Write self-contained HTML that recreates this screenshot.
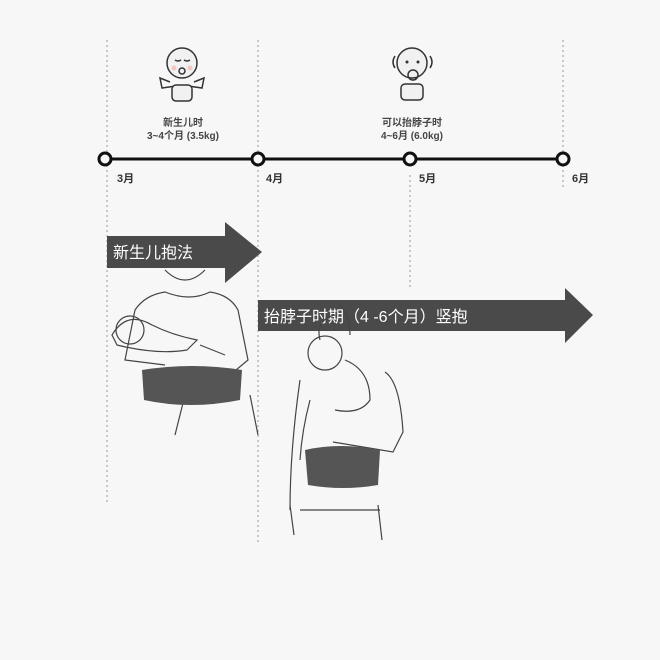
<!DOCTYPE html>
<html><head><meta charset="utf-8"><style>
body{margin:0;background:#f7f7f7;}
svg{display:block}
text{font-family:"Liberation Sans","Noto Sans CJK SC",sans-serif;}
</style></head><body>
<svg width="660" height="660" viewBox="0 0 660 660">
<rect width="660" height="660" fill="#f7f7f7"/>
<g stroke="#aaa" stroke-width="1.2" stroke-dasharray="2,3">
<line x1="107" y1="40" x2="107" y2="505"/>
<line x1="258" y1="40" x2="258" y2="545"/>
<line x1="410" y1="175" x2="410" y2="290"/>
<line x1="563" y1="40" x2="563" y2="190"/>
</g>
<g fill="none" stroke="#333" stroke-width="1.5">
<circle cx="182" cy="63" r="15" fill="#f1f1f1"/>
<path d="M170 82 L160 78 L162 88 L176 86 M194 82 L204 78 L202 88 L188 86"/>
<rect x="172" y="85" width="20" height="16" rx="4" fill="#f1f1f1"/>
<path d="M175 60 q3 2 6 0 M184 60 q3 2 6 0"/>
<circle cx="182" cy="71" r="3"/>
<circle cx="412" cy="63" r="15" fill="#f1f1f1"/>
<rect x="401" y="84" width="22" height="16" rx="4" fill="#f1f1f1"/>
<circle cx="413" cy="75" r="5"/>
<path d="M395 56 q-4 6 0 12 M430 56 q4 6 0 12"/>
</g>
<circle cx="174" cy="68" r="2.5" fill="#f0c8c0"/><circle cx="190" cy="68" r="2.5" fill="#f0c8c0"/>
<circle cx="407" cy="62" r="1.5" fill="#333"/><circle cx="418" cy="62" r="1.5" fill="#333"/>
<g font-size="10" fill="#444" text-anchor="middle" font-weight="bold">
<text x="183" y="126">新生儿时</text><text x="183" y="139">3~4个月 (3.5kg)</text>
<text x="412" y="126">可以抬脖子时</text><text x="412" y="139">4~6月 (6.0kg)</text>
</g>
<line x1="105" y1="159" x2="563" y2="159" stroke="#111" stroke-width="3"/>
<g fill="#f7f7f7" stroke="#111" stroke-width="3">
<circle cx="105" cy="159" r="6"/><circle cx="258" cy="159" r="6"/><circle cx="410" cy="159" r="6"/><circle cx="563" cy="159" r="6"/>
</g>
<g font-size="11" fill="#333" font-weight="bold">
<text x="117" y="182">3月</text><text x="266" y="182">4月</text><text x="419" y="182">5月</text><text x="572" y="182">6月</text>
</g>
<path d="M107 236 H225 V222 L262 252 L225 283 V268 H107 Z" fill="#4a4a4a"/>
<text x="113" y="258" font-size="16" fill="#fff">新生儿抱法</text>
<path d="M258 300 H565 V288 L593 315 L565 343 V331 H258 Z" fill="#4a4a4a"/>
<text x="264" y="322" font-size="16" fill="#fff">抬脖子时期（4 -6个月）竖抱</text>
<g fill="none" stroke="#444" stroke-width="1.2">
<path d="M165 270 q20 20 40 0 M135 310 q10-15 30-18 q25 10 45 0 q20 3 28 18 l10 50 l-12 10 M135 310 l-10 50 l40 5"/>
<path d="M112 335 q15-25 40-10 q20 10 45 15 l-10 10 q-30 5-70-5 z"/>
<circle cx="130" cy="330" r="14"/>
<path d="M200 345 l25 10 M185 395 l-10 40 M250 395 l8 40"/>
</g>
<path d="M142 370 q50 -8 100 0 l-2 30 q-50 10-96 0 z" fill="#555"/>
<g fill="none" stroke="#444" stroke-width="1.2">
<circle cx="325" cy="353" r="17"/>
<path d="M300 380 q-10 70-10 130 M385 372 q15 10 18 60 l-10 20 l-60-10 M345 360 q25 10 25 40 q-10 15-35 10 M310 400 q-8 30-10 60 M290 505 l4 30 M378 505 l4 35 M300 510 h80"/>
<path d="M320 340 q-5 -20 15-25 M350 335 q0 -20 -10 -30"/>
</g>
<path d="M305 450 q35 -8 75 0 l-2 35 q-35 6-70 0 z" fill="#555"/>
</svg>
</body></html>
